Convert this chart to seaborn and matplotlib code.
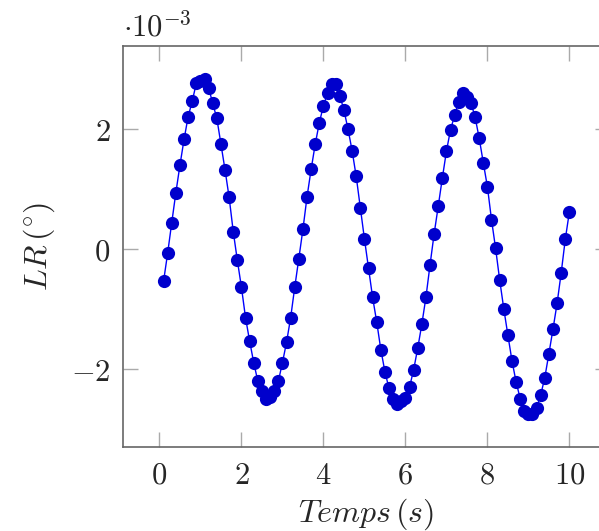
import matplotlib
matplotlib.use("Agg")
import matplotlib.pyplot as plt
import seaborn as sns
import pandas as pd
from matplotlib.ticker import FixedLocator, FuncFormatter

# time samples (s)
temps = [
    0.1, 0.2, 0.3, 0.4, 0.5, 0.6, 0.7, 0.8, 0.9, 1.0,
    1.1, 1.2, 1.3, 1.4, 1.5, 1.6, 1.7, 1.8, 1.9, 2.0,
    2.1, 2.2, 2.3, 2.4, 2.5, 2.6, 2.7, 2.8, 2.9, 3.0,
    3.1, 3.2, 3.3, 3.4, 3.5, 3.6, 3.7, 3.8, 3.9, 4.0,
    4.1, 4.2, 4.3, 4.4, 4.5, 4.6, 4.7, 4.8, 4.9, 5.0,
    5.1, 5.2, 5.3, 5.4, 5.5, 5.6, 5.7, 5.8, 5.9, 6.0,
    6.1, 6.2, 6.3, 6.4, 6.5, 6.6, 6.7, 6.8, 6.9, 7.0,
    7.1, 7.2, 7.3, 7.4, 7.5, 7.6, 7.7, 7.8, 7.9, 8.0,
    8.1, 8.2, 8.3, 8.4, 8.5, 8.6, 8.7, 8.8, 8.9, 9.0,
    9.1, 9.2, 9.3, 9.4, 9.5, 9.6, 9.7, 9.8, 9.9, 10.0,
]

# LR in units of 1e-3 degrees
lr_milli = [
    -0.54, -0.07, 0.44, 0.94, 1.40, 1.83, 2.21, 2.47, 2.77, 2.81,
    2.84, 2.69, 2.43, 2.18, 1.75, 1.32, 0.86, 0.29, -0.19, -0.64,
    -1.15, -1.54, -1.90, -2.21, -2.37, -2.50, -2.47, -2.37, -2.21, -1.90,
    -1.56, -1.15, -0.64, -0.16, 0.33, 0.87, 1.33, 1.75, 2.11, 2.39,
    2.60, 2.75, 2.75, 2.56, 2.32, 2.00, 1.64, 1.21, 0.69, 0.17,
    -0.32, -0.81, -1.22, -1.68, -2.05, -2.33, -2.51, -2.59, -2.54, -2.49,
    -2.31, -2.02, -1.66, -1.26, -0.81, -0.27, 0.25, 0.71, 1.18, 1.63,
    1.99, 2.23, 2.46, 2.60, 2.53, 2.44, 2.20, 1.85, 1.44, 1.04,
    0.49, 0.01, -0.52, -1.00, -1.44, -1.87, -2.22, -2.50, -2.71, -2.76,
    -2.76, -2.66, -2.44, -2.15, -1.75, -1.34, -0.91, -0.40, 0.16, 0.62,
]

x_ticks = [0, 2, 4, 6, 8, 10]
y_ticks_milli = [-2, 0, 2]

df = pd.DataFrame({"t": temps, "lr": [v * 1e-3 for v in lr_milli]})

sns.set_theme(style="ticks")
plt.rcParams["mathtext.fontset"] = "cm"
plt.rcParams["font.family"] = ["DejaVu Serif"]

fig = plt.figure(figsize=(5.99, 5.31), dpi=100)
ax = fig.add_axes([0.2053, 0.158, 0.813, 0.7554])

sns.lineplot(data=df, x="t", y="lr", ax=ax, color="blue", linewidth=1.0,
             marker="o", markersize=9.5, markerfacecolor=(0, 0, 0.8),
             markeredgecolor=(0, 0, 0.8), markeredgewidth=0)

ax.set_xlim(-0.89, 10.99)
ax.set_ylim(-3.31e-3, 3.39e-3)

ax.xaxis.set_major_locator(FixedLocator(x_ticks))
ax.yaxis.set_major_locator(FixedLocator([v * 1e-3 for v in y_ticks_milli]))
ax.xaxis.set_major_formatter(FuncFormatter(lambda v, p: f"${v:g}$"))
ax.yaxis.set_major_formatter(FuncFormatter(lambda v, p: f"${v * 1e3:g}$"))

ax.tick_params(axis="both", which="major", direction="in", length=11, width=1,
               color="#aaaaaa", labelsize=22, top=True, right=True, pad=9)
for s in ax.spines.values():
    s.set_color("#666666")
    s.set_linewidth(1.2)

ax.set_xlabel(r"$Temps\,(s)$", fontsize=23, labelpad=4)
ax.set_ylabel(r"$LR\,(^{\circ})$", fontsize=23, labelpad=10)
ax.text(0.0, 1.008, r"$\cdot 10^{-3}$", transform=ax.transAxes, fontsize=22,
        ha="left", va="bottom")

fig.savefig("out.png", dpi=100)
plt.close(fig)
